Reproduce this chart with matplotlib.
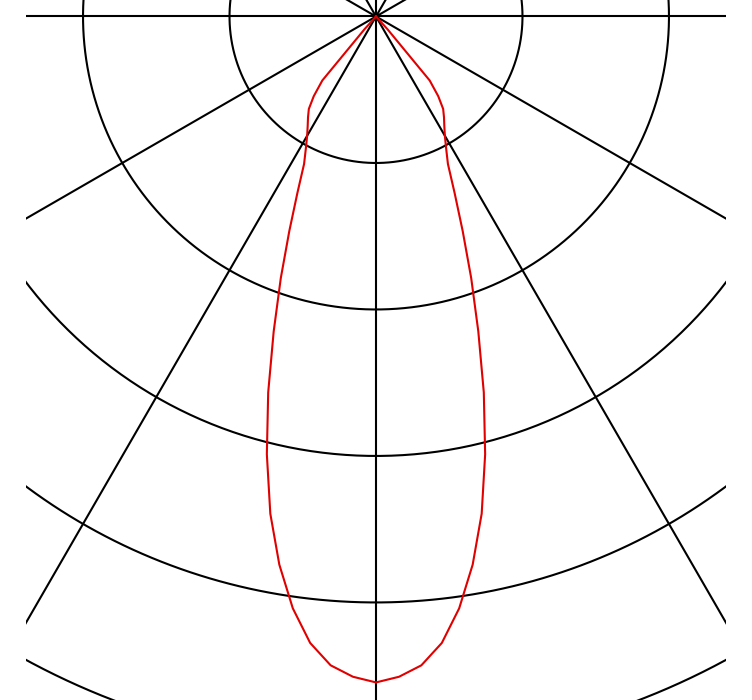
import numpy as np
import matplotlib
matplotlib.use("Agg")
import matplotlib.pyplot as plt

# Luminous intensity distribution (symmetric), angle from nadir in degrees
angles_deg = [0, 2, 4, 6, 8, 10, 12, 14, 16, 18, 20, 22, 24, 26, 28, 30, 32, 34, 36, 38, 40, 42, 44]
intensity = [454.6, 451, 444, 430, 408, 380, 347, 308, 267, 226, 190, 158, 132, 112, 102, 94, 88, 83, 78, 69, 57, 12, 0]

ring_values = [100, 200, 300, 400, 500, 600]
spoke_angles_deg = list(range(0, 360, 30))

fig = plt.figure(figsize=(7.52, 7.00), dpi=100)
ax = fig.add_axes([26 / 752, 0, 700 / 752, 1])
ax.set_xlim(-238.9, 238.9)
ax.set_ylim(-466.6, 11.26)
ax.set_aspect('equal')
ax.axis('off')

lw = 1.5
t = np.linspace(0, 2 * np.pi, 721)
for rv in ring_values:
    ax.plot(rv * np.cos(t), rv * np.sin(t), color='black', lw=lw, solid_capstyle='butt')

R = 1000
for a in spoke_angles_deg:
    ar = np.radians(a)
    ax.plot([0, R * np.sin(ar)], [0, -R * np.cos(ar)], color='black', lw=lw)

th = np.radians(np.array(angles_deg, dtype=float))
r = np.array(intensity, dtype=float)
th_full = np.concatenate([-th[::-1], th[1:]])
r_full = np.concatenate([r[::-1], r[1:]])
ax.plot(r_full * np.sin(th_full), -r_full * np.cos(th_full), color='#e00000', lw=lw, zorder=5)

fig.savefig("out.png", dpi=100, facecolor='white')
